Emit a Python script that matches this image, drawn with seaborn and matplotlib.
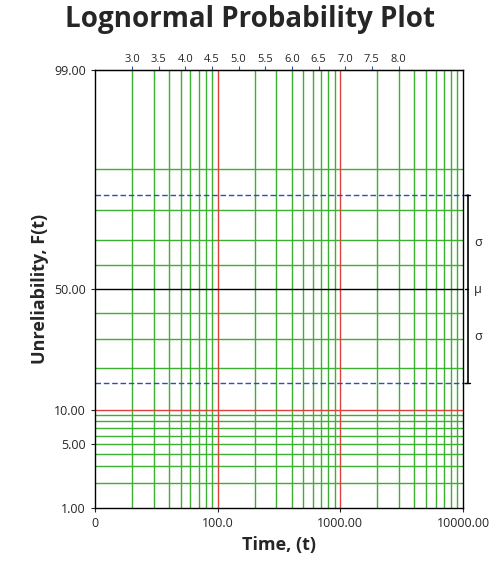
import numpy as np
import matplotlib
matplotlib.use("Agg")
import matplotlib.pyplot as plt
import seaborn as sns
from statistics import NormalDist

sns.set_style("white")
plt.rcParams['font.family'] = ['Open Sans', 'DejaVu Sans']

# data
x_ticks_t = [10, 100, 1000, 10000]
x_tick_labels = ["0", "100.0", "1000.00", "10000.00"]
y_ticks_F = [1, 5, 10, 50, 99]
y_tick_labels = ["1.00", "5.00", "10.00", "50.00", "99.00"]
ln_ticks = [3.0, 3.5, 4.0, 4.5, 5.0, 5.5, 6.0, 6.5, 7.0, 7.5, 8.0]
red_t = [100, 1000]
green_t = [m * d for d in (10, 100, 1000) for m in range(2, 10)]
green_F = [2, 3, 4, 5, 6, 7, 8, 9, 20, 30, 40, 60, 70, 80, 90]
red_F = [10]
mu_F = 50
sigma_F = [15.87, 84.13]

nd = NormalDist()
q = lambda F: nd.inv_cdf(F / 100.0)

fig = plt.figure(figsize=(5, 5.71), dpi=100)
ax = fig.add_axes([0.19, 0.11, 0.736, 0.767])
ax.set_xlim(1, 4)
ax.set_ylim(q(1), q(99))

G = "#3cb030"; R = "#e0403a"; B = "#3050b0"
for t in green_t:
    ax.axvline(np.log10(t), color=G, lw=1)
for F in green_F:
    ax.axhline(q(F), color=G, lw=1)
for t in red_t:
    ax.axvline(np.log10(t), color=R, lw=1)
for F in red_F:
    ax.axhline(q(F), color=R, lw=1)
ax.axhline(q(mu_F), color="black", lw=1)
for F in sigma_F:
    ax.axhline(q(F), color=B, lw=1, ls=(0, (4, 2)))
    ax.plot([4, 4.03], [q(F)] * 2, color=B, lw=1, ls=(0, (4, 2)), clip_on=False)

# sigma bracket
bx = 4.04
ax.plot([bx, bx], [q(sigma_F[0]), q(sigma_F[1])], color="black", lw=1.2, clip_on=False)
for F in sigma_F:
    ax.plot([bx - 0.02, bx + 0.02], [q(F)] * 2, color="black", lw=1, clip_on=False)
ax.plot([bx - 0.02, bx], [0, 0], color="black", lw=1, clip_on=False)
ax.text(bx + 0.05, 0, "μ", va="center", ha="left", fontsize=9)
ax.text(bx + 0.05, 0.5, "σ", va="center", ha="left", fontsize=9)
ax.text(bx + 0.05, -0.5, "σ", va="center", ha="left", fontsize=9)

ax.set_xticks(np.log10(x_ticks_t))
ax.set_xticklabels(x_tick_labels, fontsize=9)
ax.set_yticks([q(F) for F in y_ticks_F])
ax.set_yticklabels(y_tick_labels, fontsize=9)
ax.tick_params(length=3, direction="out", left=True, bottom=True)

top = ax.secondary_xaxis("top")
top.set_xticks([np.log10(np.exp(v)) for v in ln_ticks])
top.set_xticklabels([f"{v:.1f}" for v in ln_ticks], fontsize=8)
top.tick_params(length=3, color=B, pad=1)

for s in ax.spines.values():
    s.set_color("black"); s.set_linewidth(1)

ax.set_xlabel("Time, (t)", fontsize=13, fontweight="bold")
ax.set_ylabel("Unreliability, F(t)", fontsize=13, fontweight="bold")
fig.text(0.5, 0.965, "Lognormal Probability Plot", ha="center", va="center",
         fontsize=20, fontweight="bold")
fig.savefig("out.png", dpi=100)
